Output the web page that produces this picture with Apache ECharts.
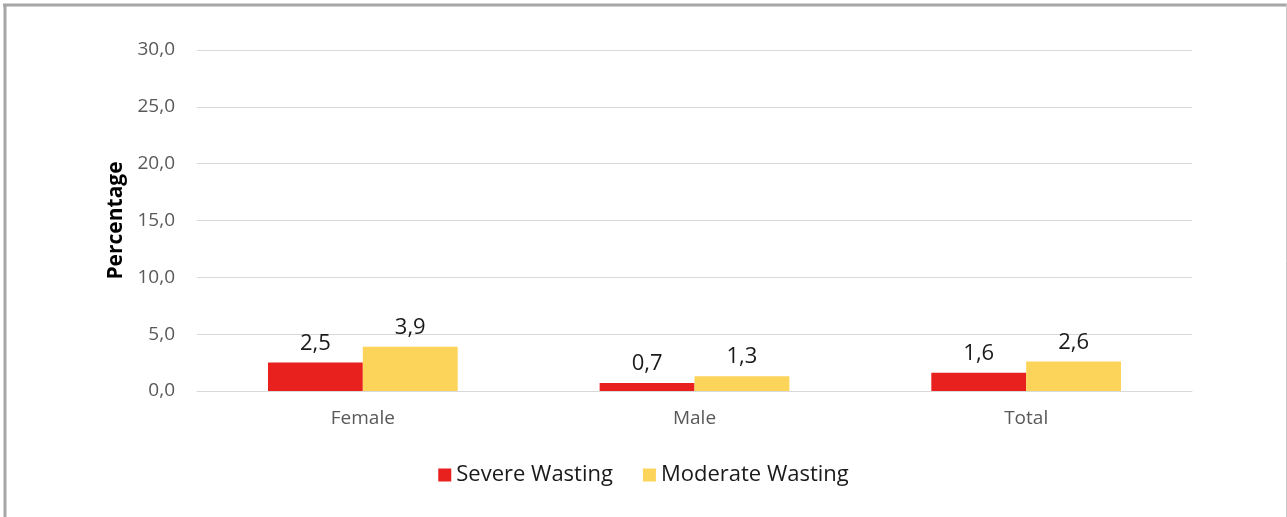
<!DOCTYPE html>
<html><head><meta charset="utf-8">
<script src="https://cdn.jsdelivr.net/npm/echarts@6/dist/echarts.min.js"></script>
<style>html,body{margin:0;padding:0;background:#fff}#c{width:1287px;height:517px}</style>
</head><body><div id="c"></div>
<script>
const categories = ['Female', 'Male', 'Total'];
const severe = [2.5, 0.7, 1.6];
const moderate = [3.9, 1.3, 2.6];
const yTicks = [0, 5, 10, 15, 20, 25, 30];
const fmt = v => Number(v).toFixed(1).replace('.', ',');
const chart = echarts.init(document.getElementById('c'));
const FONT = 'Open Sans';
chart.setOption({
  animation: false,
  textStyle: { fontFamily: FONT },
  graphic: [
    { type: 'line', shape: { x1: 3, y1: 5, x2: 1287, y2: 5 }, style: { stroke: '#a6a6a6', lineWidth: 3 } },
    { type: 'line', shape: { x1: 5, y1: 4, x2: 5, y2: 517 }, style: { stroke: '#a6a6a6', lineWidth: 3 } },
    { type: 'line', shape: { x1: 1286.5, y1: 4, x2: 1286.5, y2: 517 }, style: { stroke: '#c8c8c8', lineWidth: 1 } }
  ],
  grid: { left: 197, right: 95, top: 50, bottom: 126 },
  legend: {
    top: 459, left: 'center',
    itemWidth: 13, itemHeight: 13, itemGap: 30,
    icon: 'rect',
    textStyle: { fontSize: 22, color: '#1a1a1a', fontFamily: FONT },
    data: ['Severe Wasting', 'Moderate Wasting']
  },
  xAxis: {
    type: 'category', data: categories,
    axisTick: { show: false },
    axisLine: { lineStyle: { color: '#d9d9d9' } },
    axisLabel: { fontSize: 19, color: '#595959', margin: 18 }
  },
  yAxis: {
    type: 'value', min: yTicks[0], max: yTicks[yTicks.length - 1], interval: 5,
    name: 'Percentage', nameLocation: 'middle', nameGap: 68,
    nameTextStyle: { fontSize: 21, fontWeight: 'bold', color: '#000' },
    axisLabel: { fontSize: 19, color: '#595959', margin: 22, formatter: v => fmt(v) },
    splitLine: { lineStyle: { color: '#d9d9d9' } },
    axisLine: { show: false }, axisTick: { show: false }
  },
  series: [
    { name: 'Severe Wasting', type: 'bar', data: severe, barWidth: '28.6%', barGap: '0%',
      itemStyle: { color: '#E8211F' },
      label: { show: true, position: 'top', distance: 8, fontSize: 22, color: '#1a1a1a', formatter: p => fmt(p.value) } },
    { name: 'Moderate Wasting', type: 'bar', data: moderate, barWidth: '28.6%', barGap: '0%',
      itemStyle: { color: '#FCD45A' },
      label: { show: true, position: 'top', distance: 8, fontSize: 22, color: '#1a1a1a', formatter: p => fmt(p.value) } }
  ]
});
</script></body></html>
